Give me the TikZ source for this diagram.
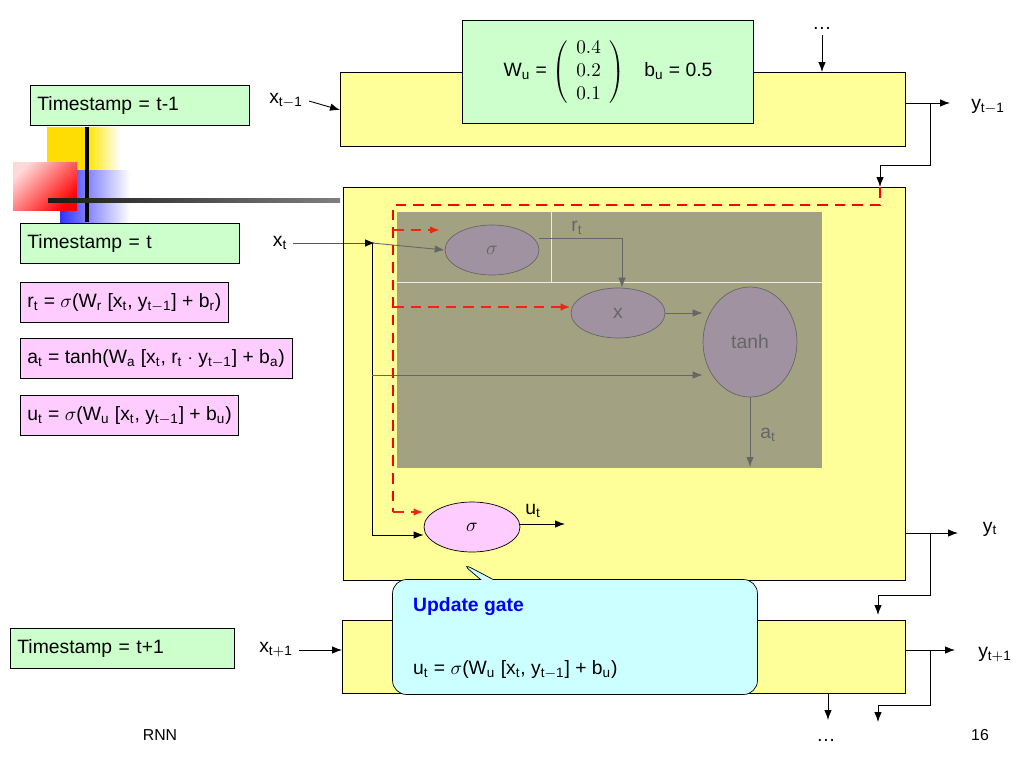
\documentclass[tikz,border=0pt]{standalone}
\usepackage{fontspec}
\setmainfont{Liberation Sans}
\usetikzlibrary{arrows.meta,shapes.callouts,shapes.geometric}
\definecolor{boxyellow}{RGB}{255,255,153}
\definecolor{boxgreen}{RGB}{204,255,204}
\definecolor{boxpink}{RGB}{255,204,255}
\definecolor{gatepurple}{RGB}{160,146,160}
\definecolor{shadegray}{RGB}{162,162,130}
\definecolor{calloutcyan}{RGB}{204,255,255}
\tikzset{
  cell/.style={draw=black, fill=boxyellow, line width=.5pt},
  stamp/.style={draw=black, fill=boxgreen, anchor=north west, minimum height=.8cm, text width=#1, inner sep=4pt, align=left},
  formula/.style={draw=black, fill=boxpink, anchor=north west, minimum height=.8cm, inner sep=4pt},
  gate/.style={ellipse, draw=black!60, fill=gatepurple, text=black!60},
  flow/.style={-{Latex[length=2mm]}, line width=.5pt},
  dimflow/.style={-{Latex[length=2mm]}, black!60, line width=.5pt},
  hint/.style={red, dashed, line width=1.5pt, dash pattern=on 6pt off 4pt},
  hintarrow/.style={-{Latex[length=2mm]}, red!70!brown, dashed, line width=1.5pt, dash pattern=on 6pt off 4pt}
}
\begin{document}
\begin{tikzpicture}[x=0.02cm, y=-0.02cm, font=\fontsize{11}{13}\selectfont]
  \useasboundingbox (0,0) rectangle (1024,768);
  % decoration
  \fill[yellow!80!orange] (47,127) rectangle (88,175);
  \shade[left color=yellow!80!orange, right color=white] (88,127) rectangle (120,175);
  \shade[left color=blue!80, right color=white] (60,170) rectangle (130,222);
  \shade[left color=red!15, right color=red, shading angle=45] (13,162) rectangle (77,210);
  \draw[line width=2pt] (87,127) -- (87,222);
  \shade[left color=black!90, right color=black!50] (48,198) rectangle (340,202);
  % cells
  \draw[cell] (340,72) rectangle (905,146);
  \draw[cell] (343,187) rectangle (905,580);
  \draw[cell] (342,620) rectangle (905,693);
  \fill[shadegray] (397,212) rectangle (822,468);
  \draw[white!80!shadegray] (551,212) -- (551,282) (397,282) -- (822,282);
  % weights
  \node[draw=black, fill=boxgreen, minimum width=5.82cm, minimum height=2.06cm] (wu) at (608,72) {};
  \node (wtext) at (608,72) {W$_\mathrm{u}$ = $\left(\begin{array}{c}0.4\\0.2\\0.1\end{array}\right)$\quad b$_\mathrm{u}$ = 0.5};
  % time stamps
  \node[stamp=4.1cm] (ts1) at (30,85) {Timestamp = t-1};
  \node[stamp=4.1cm] (ts2) at (20,223) {Timestamp = t};
  \node[stamp=4.2cm] (ts3) at (10,628) {Timestamp = t+1};
  \node[formula] (fr) at (20,282) {r$_\mathrm{t}$ = $\sigma$(W$_\mathrm{r}$ [x$_\mathrm{t}$, y$_\mathrm{t-1}$] + b$_\mathrm{r}$)};
  \node[formula] (fa) at (20,338) {a$_\mathrm{t}$ = tanh(W$_\mathrm{a}$ [x$_\mathrm{t}$, r$_\mathrm{t}$ $\cdot$ y$_\mathrm{t-1}$] + b$_\mathrm{a}$)};
  \node[formula] (fu) at (20,395) {u$_\mathrm{t}$ = $\sigma$(W$_\mathrm{u}$ [x$_\mathrm{t}$, y$_\mathrm{t-1}$] + b$_\mathrm{u}$)};
  % inputs and outputs
  \node (xa) at (286,101) {x$_\mathrm{t-1}$};
  \node (xb) at (280,243) {x$_\mathrm{t}$};
  \node (xc) at (276,650) {x$_\mathrm{t+1}$};
  \node (ya) at (988,107) {y$_\mathrm{t-1}$};
  \node (yb) at (990,529) {y$_\mathrm{t}$};
  \node (yc) at (995,655) {y$_\mathrm{t+1}$};
  \draw[flow] (xa.east) -- (340,110);
  \draw[flow] (xc.east) -- (342,650);
  \draw[flow] (905,103) -- (950,103);
  \draw[flow] (905,533) -- (958,533);
  \draw[flow] (905,650) -- (955,650);
  \node (dtop) at (822,28) {\dots};
  \node (dbot) at (826,740) {\dots};
  \draw[flow] (dtop.south) -- (822,72);
  \draw[flow] (828,693) -- (828,720);
  \draw[flow] (930,103) -- (930,165) -- (880,165) -- (880,187);
  \draw[flow] (930,533) -- (930,595) -- (878,595) -- (878,615);
  \draw[flow] (930,650) -- (930,705) -- (878,705) -- (878,722);
  % gates
  \node[gate, minimum width=1.88cm, minimum height=1cm] (sr) at (492,250) {$\sigma$};
  \node[gate, minimum width=1.88cm, minimum height=1cm] (mul) at (618,313) {x};
  \node[gate, minimum width=1.88cm, minimum height=2.2cm] (th) at (750,342) {tanh};
  \node[ellipse, draw=black, fill=boxpink, minimum width=1.92cm, minimum height=1cm] (su) at (472,527) {$\sigma$};
  \draw[flow] (xb.east) -- (372,243) -- (375,243);
  \draw[dimflow] (372,243) -- (sr.west);
  \draw[flow] (372,243) -- (372,535) -- (su.west |- 0,535);
  \draw[dimflow] (372,375) -- (th.west |- 0,375);
  \draw[dimflow] (sr.east |- 0,238) -- (622,238) -- (mul.north -| 622,0);
  \node[text=black!60] (rt) at (577,228) {r$_\mathrm{t}$};
  \draw[dimflow] (mul.east) -- (th.west |- mul.east);
  \draw[dimflow] (th.south) -- (750,467);
  \node[text=black!60] (at) at (768,435) {a$_\mathrm{t}$};
  \draw[flow] (su.east |- 0,524) -- (565,524);
  \node (ut) at (533,511) {u$_\mathrm{t}$};
  % hint path
  \draw[hint] (880,187) -- (880,205) -- (393,205) -- (393,512);
  \draw[hintarrow] (393,512) -- (su.west |- 0,512);
  \draw[hintarrow] (393,230) -- (440,230);
  \draw[hintarrow] (393,307) -- (mul.west |- 0,307);
  % callout
  \node[rectangle callout, rounded corners=8pt, draw=black, fill=calloutcyan, minimum width=7.3cm, minimum height=2.3cm, callout absolute pointer={(460,562)}] (upd) at (575,637) {};
  \node[text=blue, font=\fontsize{11}{13}\selectfont\bfseries, anchor=west] (updt) at (407,607) {Update gate};
  \node[anchor=west] (updf) at (407,670) {u$_\mathrm{t}$ = $\sigma$(W$_\mathrm{u}$ [x$_\mathrm{t}$, y$_\mathrm{t-1}$] + b$_\mathrm{u}$)};
  % footer
  \node[font=\fontsize{9}{11}\selectfont] (rnn) at (160,735) {RNN};
  \node[font=\fontsize{9}{11}\selectfont] (pg) at (980,735) {16};
\end{tikzpicture}
\end{document}
